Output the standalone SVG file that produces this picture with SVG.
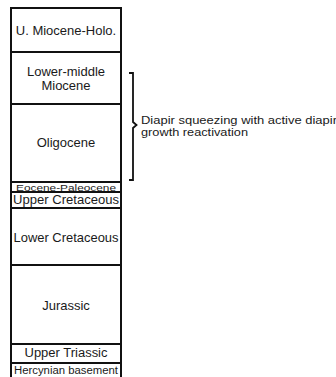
<svg xmlns="http://www.w3.org/2000/svg" width="336" height="377" viewBox="0 0 336 377">
<style>
.box{fill:#fff;stroke:#111;stroke-width:2}
.t{font-family:"Liberation Sans",Arial,sans-serif;font-size:13px;fill:#1a1a1a;text-anchor:middle}
.l{font-family:"Liberation Sans",Arial,sans-serif;font-size:11px;fill:#1a1a1a}
.br{fill:none;stroke:#111;stroke-width:1.8}
</style>
<rect width="336" height="377" fill="#fff"/>
<g id="u-miocene-holo"><rect class="box" x="11" y="8" width="110" height="44"/><text class="t" x="66" y="35">U. Miocene-Holo.</text></g>
<g id="lower-middle-miocene"><rect class="box" x="11" y="52" width="110" height="52"/><text class="t" x="66" y="76">Lower-middle</text><text class="t" x="66" y="90">Miocene</text></g>
<g id="oligocene"><rect class="box" x="11" y="104" width="110" height="78"/><text class="t" x="66" y="147">Oligocene</text></g>
<g id="eocene-paleocene"><rect class="box" x="11" y="182" width="110" height="10"/><text class="t" x="66" y="190.5" style="font-size:9px" textLength="100" lengthAdjust="spacingAndGlyphs">Eocene-Paleocene</text></g>
<g id="upper-cretaceous"><rect class="box" x="11" y="192" width="110" height="16"/><text class="t" x="66" y="203.5" style="font-size:12px" textLength="106" lengthAdjust="spacingAndGlyphs">Upper Cretaceous</text></g>
<g id="lower-cretaceous"><rect class="box" x="11" y="208" width="110" height="57"/><text class="t" x="66" y="241.5" textLength="105" lengthAdjust="spacingAndGlyphs">Lower Cretaceous</text></g>
<g id="jurassic"><rect class="box" x="11" y="265" width="110" height="79"/><text class="t" x="66" y="310">Jurassic</text></g>
<g id="upper-triassic"><rect class="box" x="11" y="344" width="110" height="19"/><text class="t" x="66" y="357" style="font-size:12px" textLength="83" lengthAdjust="spacingAndGlyphs">Upper Triassic</text></g>
<g id="hercynian-basement"><rect class="box" x="11" y="363" width="110" height="20"/><text class="t" x="66" y="373.5" style="font-size:10px" textLength="104" lengthAdjust="spacingAndGlyphs">Hercynian basement</text></g>
<g id="connectors"><path class="br" d="M129,73 H133 V122 L136.5,125 L133,128 V180 H129"/></g>
<g id="annotation"><text class="l" x="141" y="124" textLength="196" lengthAdjust="spacingAndGlyphs">Diapir squeezing with active diapir</text><text class="l" x="141" y="136" textLength="107" lengthAdjust="spacingAndGlyphs">growth reactivation</text></g>
</svg>
